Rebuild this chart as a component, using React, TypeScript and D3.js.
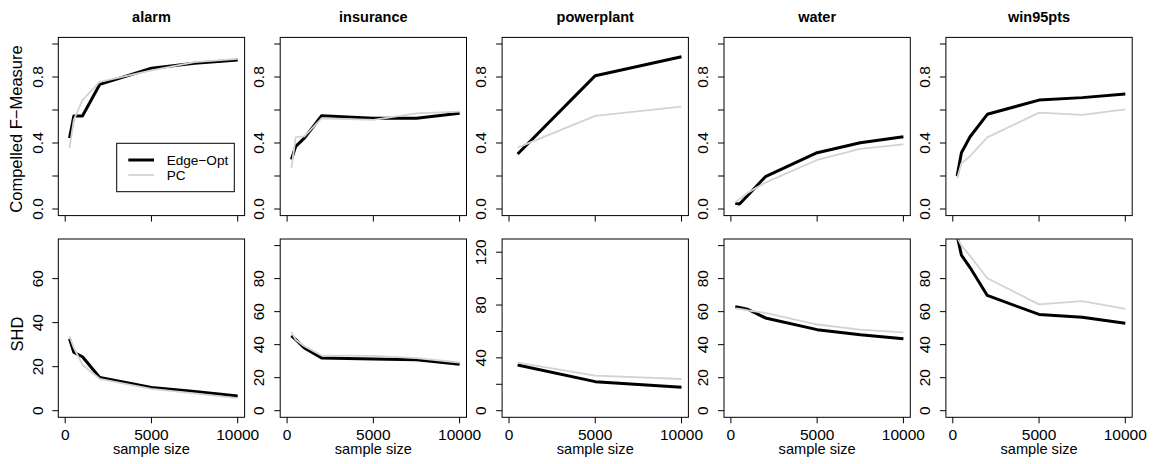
import React from "react";
import * as d3 from "d3";

const networks = ["alarm", "insurance", "powerplant", "water", "win95pts"];
const sampleSizes = [250, 500, 1000, 2000, 5000, 7500, 10000];
const powerplantSizes = [500, 5000, 10000];
const xTicks = [0, 5000, 10000];

// Compelled F-Measure
const fEdgeAlarm = [0.43, 0.564, 0.564, 0.755, 0.853, 0.883, 0.903];
const fPcAlarm = [0.37, 0.54, 0.66, 0.77, 0.84, 0.89, 0.91];
const fEdgeInsurance = [0.3, 0.38, 0.43, 0.565, 0.55, 0.55, 0.58];
const fPcInsurance = [0.25, 0.435, 0.44, 0.55, 0.54, 0.58, 0.59];
const fEdgePowerplant = [0.333, 0.808, 0.923];
const fPcPowerplant = [0.372, 0.564, 0.62];
const fEdgeWater = [0.034, 0.03, 0.085, 0.196, 0.341, 0.402, 0.438];
const fPcWater = [0.04, 0.06, 0.1, 0.16, 0.297, 0.364, 0.392];
const fEdgeWin95 = [0.2, 0.341, 0.438, 0.574, 0.66, 0.675, 0.697];
const fPcWin95 = [0.186, 0.277, 0.32, 0.434, 0.584, 0.57, 0.604];

// SHD
const shdEdgeAlarm = [32.7, 26.5, 24.5, 15.1, 10.5, 8.7, 6.7];
const shdPcAlarm = [33.8, 28.5, 20.9, 14.5, 9.9, 7.9, 5.7];
const shdEdgeInsurance = [45.5, 43, 38, 31.9, 31.3, 30.9, 28.2];
const shdPcInsurance = [47.7, 43, 39, 33.5, 33.2, 31.9, 29.2];
const shdEdgePowerplant = [34.6, 22, 17.7];
const shdPcPowerplant = [36.4, 26.5, 24];
const shdEdgeWater = [63, 62.5, 61.3, 56.2, 49.1, 46, 43.6];
const shdPcWater = [62, 61.7, 60.7, 59.3, 52.2, 49.1, 47.5];
const shdEdgeWin95 = [106, 94.2, 86.7, 69.8, 58.3, 56.6, 53];
const shdPcWin95 = [105, 100, 93.8, 80.2, 64.4, 66.4, 61.7];

const fTicks = [0, 0.2, 0.4, 0.6, 0.8, 1.0];
const fTickLabels = ["0.0", "", "0.4", "", "0.8", ""];
const shdMax = [75, 100, 125, 100, 100];
const shdTicks = [
  [0, 20, 40, 60],
  [0, 20, 40, 60, 80, 100],
  [0, 20, 40, 60, 80, 100, 120],
  [0, 20, 40, 60, 80, 100],
  [0, 20, 40, 60, 80, 100],
];
const shdTickLabels = [
  ["0", "20", "40", "60"],
  ["0", "20", "40", "60", "80", ""],
  ["0", "", "40", "", "80", "", "120"],
  ["0", "20", "40", "60", "80", ""],
  ["0", "20", "40", "60", "80", ""],
];

const fEdge = [fEdgeAlarm, fEdgeInsurance, fEdgePowerplant, fEdgeWater, fEdgeWin95];
const fPc = [fPcAlarm, fPcInsurance, fPcPowerplant, fPcWater, fPcWin95];
const shdEdge = [shdEdgeAlarm, shdEdgeInsurance, shdEdgePowerplant, shdEdgeWater, shdEdgeWin95];
const shdPc = [shdPcAlarm, shdPcInsurance, shdPcPowerplant, shdPcWater, shdPcWin95];

const LEFT0 = 58.3;
const PITCH = 221.9;
const PW = 186.3;
const ROWS = [
  { top: 37.4, bottom: 215.6 },
  { top: 239, bottom: 417.3 },
];
const FONT = "'Liberation Sans', Arial, Helvetica, sans-serif";
const GREY = "#d3d3d3";

function Panel({ col, row }: { col: number; row: number }) {
  const left = LEFT0 + col * PITCH;
  const right = left + PW;
  const { top, bottom } = ROWS[row];
  const xs = col === 2 ? powerplantSizes : sampleSizes;
  const x = d3.scaleLinear().domain([-400, 10400]).range([left, right]);
  const ymax = row === 0 ? 1 : shdMax[col];
  const y = d3
    .scaleLinear()
    .domain([-0.04 * ymax, 1.04 * ymax])
    .range([bottom, top]);
  const ticks = row === 0 ? fTicks : shdTicks[col];
  const labels = row === 0 ? fTickLabels : shdTickLabels[col];
  const edge = row === 0 ? fEdge[col] : shdEdge[col];
  const pc = row === 0 ? fPc[col] : shdPc[col];
  const line = d3
    .line<number>()
    .x((_, i) => x(xs[i]))
    .y((v) => y(v));
  const clipId = `clip-${row}-${col}`;
  return (
    <g>
      <defs>
        <clipPath id={clipId}>
          <rect x={left} y={top} width={right - left} height={bottom - top} />
        </clipPath>
      </defs>
      <g clipPath={`url(#${clipId})`}>
        <path d={line(edge) || ""} fill="none" stroke="#000" strokeWidth={3} strokeLinejoin="round" />
        <path d={line(pc) || ""} fill="none" stroke={GREY} strokeWidth={1.8} strokeLinejoin="round" />
      </g>
      <rect x={left} y={top} width={right - left} height={bottom - top} fill="none" stroke="#000" strokeWidth={1} />
      {ticks.map((t, i) => (
        <g key={`yt${i}`}>
          <line x1={left - 6} x2={left} y1={y(t)} y2={y(t)} stroke="#000" strokeWidth={1} />
          {labels[i] !== "" && (
            <text
              transform={`translate(${left - 15.8},${y(t)}) rotate(-90)`}
              textAnchor="middle"
              fontSize={15.5}
              fontFamily={FONT}
            >
              {labels[i]}
            </text>
          )}
        </g>
      ))}
      {xTicks.map((t, i) => (
        <g key={`xt${i}`}>
          <line x1={x(t)} x2={x(t)} y1={bottom} y2={bottom + 6} stroke="#000" strokeWidth={1} />
          {row === 1 && (
            <text x={x(t)} y={440} textAnchor="middle" fontSize={15.5} fontFamily={FONT}>
              {t}
            </text>
          )}
        </g>
      ))}
      {row === 0 && (
        <text x={(left + right) / 2} y={21.7} textAnchor="middle" fontSize={14.5} fontWeight="bold" fontFamily={FONT}>
          {networks[col]}
        </text>
      )}
      {row === 1 && (
        <text x={(left + right) / 2} y={454} textAnchor="middle" fontSize={14.6} fontFamily={FONT}>
          sample size
        </text>
      )}
      {col === 0 && row === 0 && (
        <g>
          <rect x={116.7} y={143.3} width={117.6} height={48.4} fill="#fff" stroke="#000" strokeWidth={1} />
          <line x1={128.3} x2={154} y1={160} y2={160} stroke="#000" strokeWidth={3} />
          <line x1={128.3} x2={154} y1={175} y2={175} stroke={GREY} strokeWidth={1.8} />
          <text x={166.7} y={160} dominantBaseline="central" fontSize={13.6} fontFamily={FONT}>
            Edge−Opt
          </text>
          <text x={166.7} y={175} dominantBaseline="central" fontSize={13.6} fontFamily={FONT}>
            PC
          </text>
        </g>
      )}
    </g>
  );
}

export default function App() {
  return (
    <svg
      width={1156}
      height={464}
      style={{ position: "absolute", left: 0, top: 0, background: "#fff" }}
    >
      <rect x={0} y={0} width={1156} height={464} fill="#fff" />
      {[0, 1].map((row) =>
        networks.map((_, col) => <Panel key={`${row}-${col}`} row={row} col={col} />)
      )}
      <text transform="translate(22,129) rotate(-90)" textAnchor="middle" fontSize={16.5} fontFamily={FONT}>
        Compelled F−Measure
      </text>
      <text transform="translate(22.5,334) rotate(-90)" textAnchor="middle" fontSize={16.5} fontFamily={FONT}>
        SHD
      </text>
    </svg>
  );
}
